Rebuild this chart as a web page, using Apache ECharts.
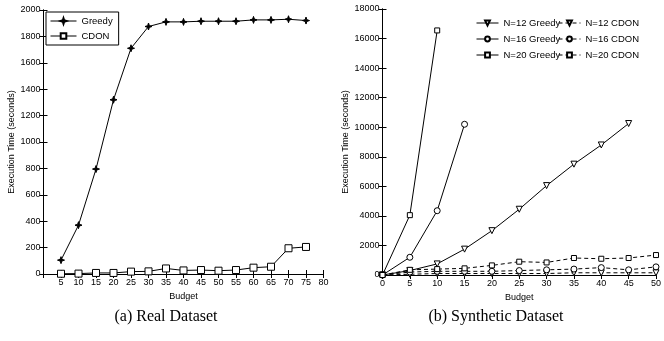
<!DOCTYPE html>
<html>
<head>
<meta charset="utf-8">
<script src="https://cdn.jsdelivr.net/npm/echarts@6/dist/echarts.min.js"></script>
<style>html,body{margin:0;padding:0;background:#fff;}#c{width:664px;height:341px;}</style>
</head>
<body>
<div id="c"></div>
<script>
// Left chart (Real Dataset)
const budgetA = [5,10,15,20,25,30,35,40,45,50,55,60,65,70,75];
const greedyA = [105,370,795,1320,1710,1875,1910,1910,1915,1915,1915,1925,1925,1930,1920];
const cdonA   = [2,3,8,8,18,20,42,27,30,25,30,48,55,195,205];

// Right chart (Synthetic Dataset)
const budgetB = [0,5,10,15,20,25,30,35,40,45,50];
const greedy12 = [0,300,750,1750,3000,4450,6050,7500,8800,10250];
const greedy16 = [0,1200,4350,10200];
const greedy20 = [0,4050,16550];
const cdon12 = [0,50,100,100,100,100,100,150,150,150,150];
const cdon16 = [0,200,250,250,250,300,350,400,500,350,550];
const cdon20 = [0,350,400,450,650,900,850,1150,1100,1150,1350];

const captionA = "(a) Real Dataset";
const captionB = "(b) Synthetic Dataset";

function pairs(xs, ys){ return ys.map((y,i)=>[xs[i], y]); }

const FONT = "Liberation Sans";
const starPath = 'path://M0,-10 L2.5,-2.5 L10,0 L2.5,2.5 L0,10 L-2.5,2.5 L-10,0 L-2.5,-2.5 Z';
const triDown = 'path://M-10,-9 L10,-9 L0,9 Z';

function mainX(grid, min, max, interval, hideZero){
  return {type:'value', gridIndex:grid, min, max, interval, name:'Budget', nameLocation:'middle', nameGap:17,
    nameTextStyle:{fontFamily:FONT, fontSize:9, color:'#000'},
    axisLine:{lineStyle:{color:'#000', width:1}},
    axisTick:{inside:true, length:4, lineStyle:{color:'#000'}},
    axisLabel:{fontFamily:FONT, fontSize:9, color:'#000', margin:4,
      formatter: v => (hideZero && v===0) ? '' : String(v)},
    splitLine:{show:false}};
}
function boxX(grid, min, max, interval){
  return {type:'value', gridIndex:grid, position:'top', min, max, interval,
    axisLine:{lineStyle:{color:'#000', width:1}},
    axisTick:{inside:true, length:4, lineStyle:{color:'#000'}},
    axisLabel:{show:false}, splitLine:{show:false}};
}
function mainY(grid, min, max, interval, gap){
  return {type:'value', gridIndex:grid, min, max, interval, name:'Execution Time (seconds)', nameLocation:'middle', nameGap:gap,
    nameTextStyle:{fontFamily:FONT, fontSize:9, color:'#000'},
    axisLine:{show:true, lineStyle:{color:'#000', width:1}},
    axisTick:{show:true, inside:true, length:4, lineStyle:{color:'#000'}},
    axisLabel:{fontFamily:FONT, fontSize:9, color:'#000', margin:3, formatter: v => String(v)},
    splitLine:{show:false}};
}
function boxY(grid, min, max, interval){
  return {type:'value', gridIndex:grid, position:'right', min, max, interval,
    axisLine:{show:true, lineStyle:{color:'#000', width:1}},
    axisTick:{show:true, inside:true, length:4, lineStyle:{color:'#000'}},
    axisLabel:{show:false}, splitLine:{show:false}};
}

function ser(name, xi, data, symbol, size, dashed){
  return {name, type:'line', xAxisIndex:xi, yAxisIndex:xi, data, symbol, symbolSize:size,
    showSymbol:true, animation:false,
    lineStyle:{color:'#000', width:1, type: dashed ? [4,3] : 'solid'},
    itemStyle:{color: symbol===starPath ? '#000' : '#fff', borderColor:'#000', borderWidth:1}};
}

const legendLine = {width:1};
const chart = echarts.init(document.getElementById('c'), null, {renderer:'canvas'});
chart.setOption({
  backgroundColor:'#fff',
  animation:false,
  grid:[
    {left:43.5, right:340.5, top:10, bottom:67},
    {left:382.5, right:2, top:9, bottom:66}
  ],
  xAxis:[mainX(0,0,80,5,true), boxX(0,0,80,5), mainX(1,0,50,5,false), boxX(1,0,50,5)],
  yAxis:[mainY(0,0,2000,200,27), boxY(0,0,2000,200), mainY(1,0,18000,2000,32), boxY(1,0,18000,2000)],
  legend:[
    {data:['Greedy','CDON'], orient:'vertical', left:46, top:12, itemWidth:26, itemHeight:7, itemGap:5,
     padding:[4,6,4,4], borderColor:'#000', borderWidth:1, backgroundColor:'#fff', lineStyle:legendLine,
     textStyle:{fontFamily:FONT, fontSize:9.5, color:'#000'}},
    {data:['N=12 Greedy','N=16 Greedy','N=20 Greedy'], orient:'vertical', left:476, top:18, itemWidth:22, itemHeight:6, itemGap:6,
     padding:0, lineStyle:legendLine, textStyle:{fontFamily:FONT, fontSize:9.5, color:'#000'}},
    {data:['N=12 CDON','N=16 CDON','N=20 CDON'], orient:'vertical', left:558, top:18, itemWidth:22, itemHeight:6, itemGap:6,
     padding:0, lineStyle:legendLine, textStyle:{fontFamily:FONT, fontSize:9.5, color:'#000'}}
  ],
  series:[
    ser('Greedy', 0, pairs(budgetA, greedyA), starPath, 7, false),
    ser('CDON', 0, pairs(budgetA, cdonA), 'rect', 7, false),
    ser('N=12 Greedy', 2, pairs(budgetB, greedy12), triDown, 6, false),
    ser('N=16 Greedy', 2, pairs(budgetB, greedy16), 'circle', 6, false),
    ser('N=20 Greedy', 2, pairs(budgetB, greedy20), 'rect', 5, false),
    ser('N=12 CDON', 2, pairs(budgetB, cdon12), triDown, 6, true),
    ser('N=16 CDON', 2, pairs(budgetB, cdon16), 'circle', 6, true),
    ser('N=20 CDON', 2, pairs(budgetB, cdon20), 'rect', 5, true)
  ],
  graphic:[
    {type:'text', x:166, y:317, style:{text:captionA, fontFamily:'Liberation Serif', fontSize:16, fill:'#000', textAlign:'center', textVerticalAlign:'middle'}},
    {type:'text', x:496, y:317, style:{text:captionB, fontFamily:'Liberation Serif', fontSize:16, fill:'#000', textAlign:'center', textVerticalAlign:'middle'}}
  ]
});
</script>
</body>
</html>
